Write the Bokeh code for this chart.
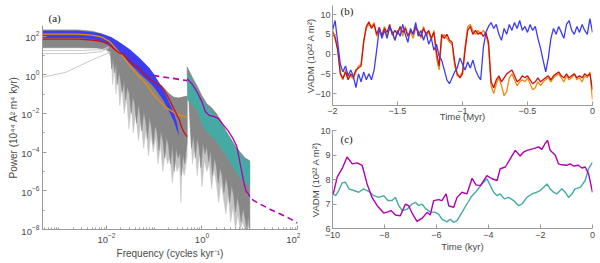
import numpy as np
from bokeh.plotting import figure
from bokeh.layouts import row, column
from bokeh.models import FixedTicker, Label, Range1d
from bokeh.embed import file_html
from bokeh.resources import INLINE

# ---------------- Panel (a): spectra, stored as log10(frequency), log10(power)
gray_lo_top_lf = [-3.34, -2.6, -2.3, -2.1, -1.95, -1.8, -1.6, -1.4, -1.2, -1.0, -0.85, -0.7, -0.6, -0.5, -0.4, -0.31]
gray_lo_top_lp = [2.32, 2.32, 2.25, 2.12, 1.95, 1.68, 1.3, 0.85, 0.35, -0.15, -0.55, -0.95, -1.15, -1.2, -1.15, -1.1]
gray_lo_bot_lf = [-3.34, -2.6, -2.2, -2.0, -1.92, -1.89, -1.86, -1.83, -1.8, -1.77, -1.74, -1.71, -1.67, -1.63,
                  -1.6, -1.56, -1.52, -1.48, -1.45, -1.41, -1.37, -1.33, -1.3, -1.26, -1.22, -1.18, -1.14, -1.1,
                  -1.06, -1.02, -0.98, -0.94, -0.9, -0.86, -0.82, -0.78, -0.74, -0.7, -0.66, -0.62, -0.58,
                  -0.54, -0.5, -0.46, -0.43, -0.4, -0.36, -0.33, -0.31]
gray_lo_bot_lp = [1.4, 1.4, 1.38, 1.3, 1.2, 0.3, 0.9, 0.1, 0.6, -0.5, 0.2, -0.2, -0.9, -0.3,
                  -1.3, -0.6, -1.0, -2.0, -1.1, -1.5, -2.5, -1.5, -2.0, -2.9, -1.9, -2.4, -3.3, -2.2,
                  -2.7, -3.6, -2.6, -3.0, -3.9, -2.9, -3.4, -4.3, -3.2, -3.7, -4.6, -3.6, -5.0,
                  -3.8, -4.3, -4.0, -5.2, -4.1, -4.6, -3.9, -3.5]
light_lo_bot_lf = [-2.0, -1.9, -1.87, -1.84, -1.8, -1.77, -1.72, -1.68, -1.63, -1.58, -1.53, -1.48, -1.44, -1.39,
                   -1.33, -1.28, -1.22, -1.17, -1.12, -1.07, -1.02, -0.97, -0.92, -0.87, -0.82, -0.77, -0.72,
                   -0.67, -0.62, -0.57, -0.52, -0.47, -0.44, -0.42, -0.37, -0.31]
light_lo_bot_lp = [1.3, 0.9, -0.5, 0.5, -1.0, 0.0, -1.6, -0.6, -2.0, -1.2, -2.8, -1.6, -3.0, -2.0,
                   -3.4, -2.4, -3.8, -2.8, -4.2, -3.0, -4.0, -3.2, -4.6, -3.6, -5.0, -4.0, -4.6,
                   -4.2, -5.6, -4.4, -5.0, -4.6, -6.6, -4.8, -5.2, -4.2]

faint1_lf = [-3.34, -2.5, -2.1, -1.95]
faint1_lp = [1.26, 1.26, 1.3, 1.45]
faint2_lf = [-3.34, -2.5, -2.1, -1.95]
faint2_lp = [1.09, 1.1, 1.2, 1.4]
faint3_lf = [-3.34, -2.85, -2.33, -1.92]
faint3_lp = [-0.13, 0.13, 0.74, 1.17]

gray_hi_top_lf = [-0.31, -0.2, -0.1, 0.0, 0.1, 0.2, 0.3, 0.4, 0.5, 0.6, 0.7, 0.8, 0.9, 1.0]
gray_hi_top_lp = [0.4, -0.15, -0.6, -1.1, -1.5, -1.7, -2.0, -2.4, -2.9, -3.3, -3.7, -4.0, -4.3, -4.45]
gray_hi_bot_lf = [-0.31, -0.28, -0.25, -0.22, -0.18, -0.14, -0.1, -0.06, -0.02, 0.02, 0.06, 0.1, 0.14, 0.18,
                  0.22, 0.26, 0.3, 0.34, 0.38, 0.42, 0.46, 0.5, 0.54, 0.58, 0.62, 0.66, 0.7, 0.74, 0.78,
                  0.82, 0.86, 0.9, 0.94, 0.97, 1.0]
gray_hi_bot_lp = [0.0, -1.0, -2.5, -3.8, -3.1, -4.3, -3.3, -3.8, -4.8, -3.5, -4.1, -3.7, -4.5, -3.9,
                  -5.2, -4.3, -4.7, -5.6, -4.8, -5.2, -6.1, -5.3, -5.8, -6.6, -5.7, -6.2, -7.1, -6.3, -6.8,
                  -7.6, -6.9, -7.4, -8.0, -7.3, -8.0]
light_hi_bot_lf = [-0.31, -0.28, -0.25, -0.2, -0.15, -0.1, -0.05, 0.0, 0.05, 0.1, 0.15, 0.2, 0.25, 0.3,
                   0.35, 0.4, 0.45, 0.5, 0.55, 0.6, 0.65, 0.7, 0.75, 0.8, 0.85, 0.9, 0.95, 1.0]
light_hi_bot_lp = [0.0, -1.0, -2.5, -4.6, -3.6, -5.2, -4.0, -5.8, -4.4, -5.0, -4.6, -5.9, -4.9, -5.6,
                   -6.6, -5.5, -6.4, -7.2, -6.2, -7.6, -6.8, -8.0, -7.2, -8.0, -7.6, -8.0, -7.8, -8.0]

blue_lf = [-3.34, -2.6, -2.3, -2.1, -1.9, -1.7, -1.5, -1.3, -1.1, -1.0, -0.9, -0.8, -0.7, -0.6, -0.52, -0.48]
blue_top = [2.28, 2.28, 2.22, 2.12, 1.95, 1.65, 1.3, 0.85, 0.35, 0.02, -0.4, -0.85, -1.35, -1.9, -2.5, -3.15]
blue_bot = [1.9, 1.9, 1.85, 1.72, 1.45, 1.05, 0.55, 0.05, -0.4, -0.65, -1.0, -1.35, -1.85, -2.35, -2.9, -3.15]

teal_lf = [-0.31, -0.2, -0.1, 0.0, 0.1, 0.2, 0.3, 0.4, 0.5, 0.6, 0.7, 0.8, 0.9, 1.0]
teal_top = [0.15, -0.3, -0.75, -1.25, -1.6, -1.85, -2.15, -2.5, -2.95, -3.35, -3.75, -4.05, -4.35, -4.55]
teal_bot = [-1.3, -1.55, -1.9, -2.6, -2.95, -3.2, -3.45, -3.8, -4.2, -4.6, -5.0, -5.35, -5.6, -5.8]

orange_lf = [-3.34, -2.6, -2.3, -2.1, -1.95, -1.85, -1.75, -1.65, -1.55, -1.45, -1.35, -1.25, -1.15, -1.05,
             -0.95, -0.85, -0.75, -0.65, -0.55, -0.45, -0.38, -0.31]
orange_lp = [2.1, 2.1, 2.05, 1.95, 1.75, 1.5, 1.2, 0.95, 0.6, 0.3, 0.0, -0.25, -0.55, -0.9,
             -1.2, -1.45, -1.7, -1.85, -2.0, -2.1, -2.15, -2.2]

red_lf = [-3.34, -2.6, -2.3, -2.1, -1.95, -1.85, -1.75, -1.65, -1.55, -1.45, -1.35, -1.25, -1.15, -1.05,
          -0.95, -0.85, -0.78, -0.7, -0.62, -0.55, -0.48, -0.42, -0.37, -0.31]
red_lp = [1.85, 1.85, 1.8, 1.72, 1.6, 1.35, 1.15, 1.05, 0.8, 0.55, 0.4, 0.15, -0.1, -0.3,
          -0.45, -0.6, -0.85, -1.2, -1.6, -1.95, -2.3, -2.75, -3.0, -3.2]

mag_lf = [-0.31, -0.2, -0.1, 0.0, 0.07, 0.15, 0.24, 0.34, 0.45, 0.55, 0.65, 0.73, 0.8, 0.87, 0.92, 0.97, 1.0]
mag_lp = [-0.2, -0.5, -0.9, -1.4, -1.9, -2.1, -2.15, -2.25, -2.6, -2.9, -3.3, -3.7, -4.6, -5.5, -6.0, -6.15, -6.3]

model_lf = [-1.02, -0.7, -0.31, 0.0, 0.5, 1.0, 1.15, 1.42, 1.64, 1.85, 2.0]
model_lp = [-0.04, -0.15, -0.3, -1.5, -4.0, -6.37, -6.6, -6.95, -7.2, -7.45, -7.67]

# ---------------- Panel (b): VADM over 2 Myr
t_b = np.linspace(-2.0, 0.0, 101)
orange_b = [6.0, 4.5, 1.5, -4.5, -6.5, -4.0, -6.0, -5.5, -6.3, -4.5, -3.0, -2.5, 3.5, 6.5, 7.5, 7.0, 8.0, 4.5,
            6.0, 5.0, 7.0, 4.5, 6.5, 5.5, 3.5, 5.5, 6.5, 4.5, 7.0, 5.0, 5.5, 4.0, 6.5, 6.0, 4.0, 7.0, 4.5,
            5.5, 3.5, 6.0, -1.0, -4.0, 4.0, 5.0, 4.0, 3.0, 2.5, -3.0, -5.5, -5.5, -4.5, 2.0, 7.0, 7.5, 6.0,
            5.0, 6.0, 5.0, 6.0, 5.0, 2.0, -8.0, -10.0, -7.5, -6.0, -8.0, -10.5, -9.5, -6.0, -5.0, -6.5, -8.0,
            -7.0, -6.5, -7.0, -6.0, -7.5, -9.0, -8.5, -7.0, -8.0, -7.0, -6.5, -6.0, -7.0, -6.0, -5.5, -5.0,
            -6.0, -7.0, -5.5, -6.5, -6.0, -5.0, -6.5, -6.0, -7.0, -5.5, -6.0, -4.5, -11.5]
red_b = [5.5, 4.0, 1.0, -5.0, -6.2, -4.5, -6.5, -5.0, -5.8, -4.0, -3.5, -3.0, 3.0, 7.0, 8.2, 6.5, 7.5, 5.0,
         6.8, 4.5, 6.5, 5.5, 7.5, 4.8, 6.0, 5.0, 7.0, 5.5, 6.5, 4.5, 6.0, 5.0, 7.0, 5.5, 4.5, 6.5, 5.0,
         6.0, 4.0, 5.5, 0.5, -3.0, 5.0, 4.0, 5.0, 3.5, 3.0, -2.0, -5.0, -6.0, -5.0, 1.0, 6.0, 7.0, 5.0,
         6.0, 5.0, 5.5, 4.5, 5.5, 3.0, -7.0, -8.5, -6.5, -5.5, -7.0, -6.0, -5.0, -4.5, -4.0, -5.5, -7.0,
         -6.5, -5.5, -6.0, -5.5, -6.5, -7.5, -7.0, -6.0, -7.0, -6.5, -6.0, -5.5, -6.5, -5.5, -5.0, -4.5,
         -5.5, -6.0, -5.0, -6.0, -5.5, -5.0, -6.0, -5.5, -6.0, -5.0, -5.5, -5.0, -9.0]
blue_b = [6.0, 8.5, 3.0, -2.5, -4.5, -3.0, -5.5, -4.0, -5.5, -8.5, -5.0, -7.0, -4.5, -6.5, -5.0, -6.5, -4.0, 1.0,
          6.5, 4.0, 6.0, 4.0, 7.0, 5.5, 3.5, 6.0, 4.5, 7.5, 5.0, 3.0, 6.5, 5.0, 8.0, 4.5, 6.0, 3.5, 5.5,
          2.5, 4.0, 1.0, 2.5, -0.5, -1.5, -4.0, -6.5, -7.5, -6.0, -4.5, -3.5, -1.0, -2.5, -4.0, -2.0, -3.5, -1.5,
          -4.0, -5.5, -6.5, 1.5, 5.5, 7.0, 8.0, 6.5, 7.5, 5.0, 3.5, 6.5, 5.0, 7.5, 6.0, 8.0, 6.5, 8.5, 6.0,
          7.0, 5.5, 7.5, 6.0, 7.0, 4.0, 1.5, -1.5, -4.5, -1.0, 4.0, 6.5, 5.0, 7.0, 5.5, 4.0, 7.5, 8.5, 6.0,
          5.0, 7.0, 5.5, 7.5, 6.0, 5.0, 9.0, 5.5]

# ---------------- Panel (c): VADM over 10 kyr
t_mag = [-9.97, -9.82, -9.63, -9.44, -9.24, -9.05, -8.86, -8.67, -8.48, -8.28, -8.03, -7.87, -7.75, -7.58, -7.39,
         -7.2, -7.07, -6.94, -6.75, -6.56, -6.36, -6.24, -6.11, -5.92, -5.79, -5.63, -5.53, -5.34, -5.21, -5.02,
         -4.83, -4.63, -4.48, -4.31, -4.06, -3.87, -3.67, -3.55, -3.35, -3.16, -2.97, -2.78, -2.65, -2.52, -2.27,
         -2.07, -1.95, -1.82, -1.73, -1.63, -1.43, -1.31, -1.18, -0.99, -0.86, -0.73, -0.54, -0.41, -0.28, -0.15, 0.0]
v_mag = [7.41, 8.1, 8.44, 8.92, 8.64, 8.68, 8.58, 7.82, 7.27, 6.93, 6.63, 6.68, 6.73, 6.55, 6.52,
         6.99, 6.93, 6.63, 6.29, 6.41, 6.66, 6.55, 7.14, 7.18, 7.14, 7.41, 6.93, 6.86, 7.27, 7.48,
         7.41, 8.05, 7.78, 7.75, 8.16, 8.03, 7.96, 8.44, 8.51, 8.85, 9.19, 8.96, 9.12, 9.19, 9.26,
         9.33, 9.23, 9.47, 9.6, 9.19, 8.99, 8.64, 8.6, 8.58, 8.64, 8.55, 8.58, 8.47, 8.51, 8.23, 7.48]
t_teal = [-9.97, -9.88, -9.76, -9.63, -9.5, -9.37, -9.18, -8.99, -8.8, -8.6, -8.41, -8.22, -8.03, -7.87, -7.71,
          -7.58, -7.45, -7.32, -7.13, -6.94, -6.81, -6.68, -6.56, -6.43, -6.24, -6.04, -5.92, -5.79, -5.6, -5.47,
          -5.34, -5.21, -5.02, -4.83, -4.63, -4.44, -4.25, -4.06, -3.93, -3.8, -3.67, -3.55, -3.39, -3.23, -3.03,
          -2.84, -2.71, -2.52, -2.33, -2.14, -2.01, -1.88, -1.75, -1.63, -1.5, -1.37, -1.18, -1.05, -0.92, -0.79,
          -0.67, -0.47, -0.28, -0.15, 0.0]
v_teal = [7.41, 7.34, 7.55, 7.86, 7.89, 7.62, 7.55, 7.48, 7.62, 7.51, 7.34, 7.27, 7.34, 7.14, 7.14,
          7.27, 6.93, 6.73, 6.79, 7.0, 7.07, 6.93, 7.0, 6.82, 6.68, 6.66, 6.59, 6.38, 6.27, 6.38,
          6.25, 6.32, 6.66, 7.0, 7.34, 7.55, 7.82, 8.03, 7.75, 7.48, 7.34, 7.41, 7.21, 7.27, 7.14,
          6.93, 7.0, 7.27, 7.41, 7.48, 7.55, 7.68, 7.82, 7.62, 7.48, 7.41, 7.62, 7.48, 7.27, 7.41,
          7.62, 7.68, 7.96, 8.44, 8.7]

# tick positions and texts
a_xticks = [1e-2, 1e0, 1e2]
a_yticks = [1e-8, 1e-6, 1e-4, 1e-2, 1e0, 1e2]
b_xticks = [-2, -1.5, -1, -0.5, 0]
b_yticks = [-10, -5, 0, 5, 10]
c_xticks = [-10, -8, -6, -4, -2, 0]
c_yticks = [6, 7, 8, 9, 10]
a_xlabel = "Frequency (cycles kyr\u207b\u00b9)"
a_ylabel = "Power (10\u2074\u2074 A\u00b2 m\u2074 kyr)"
b_xlabel = "Time (Myr)"
c_xlabel = "Time (kyr)"
bc_ylabel = "VADM (10\u00b2\u00b2 A m\u00b2)"

C_GRAY = "#878787"
C_LIGHT = "#c4c4c4"
C_FAINT = "#c9c9c9"
C_BLUE = "#3c3cf0"
C_TEAL = "#45aaa4"
C_ORANGE = "#ee8a10"
C_RED = "#d01010"
C_MAG = "#b000b0"
AX = "#9a9a9a"
TXT = "#4a4a4a"
SANS = "Liberation Sans"
SERIF = "Liberation Serif"


def p10(a):
    return [10.0 ** v for v in a]


def style(p, tick_size="9px", label_size="9.5px"):
    p.outline_line_color = None
    p.grid.visible = False
    p.background_fill_color = "white"
    p.border_fill_color = "white"
    for ax in p.axis:
        ax.axis_line_color = AX
        ax.major_tick_line_color = AX
        ax.minor_tick_line_color = AX
        ax.major_tick_in = 4
        ax.major_tick_out = 0
        ax.minor_tick_in = 2
        ax.minor_tick_out = 0
        ax.major_label_text_font = SANS
        ax.major_label_text_font_size = tick_size
        ax.major_label_text_color = TXT
        ax.axis_label_text_font = SANS
        ax.axis_label_text_font_size = label_size
        ax.axis_label_text_font_style = "normal"
        ax.axis_label_text_color = TXT
        ax.major_label_standoff = 3
        ax.axis_label_standoff = 2


def tag(p, x, y, text):
    p.add_layout(Label(x=x, y=y, text=text, text_font=SERIF, text_font_size="11px",
                       text_color="#222222", text_align="left", text_baseline="middle"))


# ---------------- figure (a)
fa = figure(width=300, height=263, x_axis_type="log", y_axis_type="log",
            x_range=Range1d(10 ** -3.34, 100), y_range=Range1d(1e-8, 10 ** 2.55),
            output_backend="svg", toolbar_location=None, title="(a)",
            min_border_left=42, min_border_right=3, min_border_top=25, min_border_bottom=34)
style(fa, "9.5px", "10px")
fa.title.text_font = SERIF
fa.title.text_font_size = "11px"
fa.title.text_font_style = "normal"
fa.title.text_color = "#222222"
fa.title.align = "left"
fa.title.offset = 6
fa.title.standoff = 4
fa.yaxis.axis_label_standoff = -1

xminor = [m * 10.0 ** e for e in range(-4, 2) for m in range(1, 10) if 10 ** -3.34 <= m * 10.0 ** e <= 100]
yminor = [10.0 ** e for e in range(-8, 3)]
fa.xaxis.ticker = FixedTicker(ticks=a_xticks, minor_ticks=xminor)
fa.yaxis.ticker = FixedTicker(ticks=a_yticks, minor_ticks=yminor)
fa.xaxis.axis_label = a_xlabel
fa.yaxis.axis_label = a_ylabel

llo_x = p10(gray_lo_top_lf) + p10(light_lo_bot_lf[::-1])
llo_y = p10(gray_lo_top_lp) + p10(light_lo_bot_lp[::-1])
fa.patch(llo_x, llo_y, fill_color=C_LIGHT, line_color=C_LIGHT, line_width=0.5)
lhi_x = p10(gray_hi_top_lf) + p10(light_hi_bot_lf[::-1])
lhi_y = p10(gray_hi_top_lp) + p10(light_hi_bot_lp[::-1])
fa.patch(lhi_x, lhi_y, fill_color=C_LIGHT, line_color=C_LIGHT, line_width=0.5)
lo_x = p10(gray_lo_top_lf) + p10(gray_lo_bot_lf[::-1])
lo_y = p10(gray_lo_top_lp) + p10(gray_lo_bot_lp[::-1])
fa.patch(lo_x, lo_y, fill_color=C_GRAY, line_color=C_GRAY, line_width=0.5)
for lf_, lp_ in ((faint1_lf, faint1_lp), (faint2_lf, faint2_lp), (faint3_lf, faint3_lp)):
    fa.line(p10(lf_), p10(lp_), line_color=C_FAINT, line_width=1)
fa.varea(x=p10(blue_lf), y1=p10(blue_bot), y2=p10(blue_top), fill_color=C_BLUE)
fa.line(p10(model_lf), p10(model_lp), line_color=C_MAG, line_width=1.6, line_dash="6 4")
hi_x = p10(gray_hi_top_lf) + p10(gray_hi_bot_lf[::-1])
hi_y = p10(gray_hi_top_lp) + p10(gray_hi_bot_lp[::-1])
fa.patch(hi_x, hi_y, fill_color=C_GRAY, line_color=C_GRAY, line_width=0.5)
fa.varea(x=p10(teal_lf), y1=p10(teal_bot), y2=p10(teal_top), fill_color=C_TEAL)
fa.line(p10(orange_lf), p10(orange_lp), line_color=C_ORANGE, line_width=1.3)
fa.line(p10(red_lf), p10(red_lp), line_color=C_RED, line_width=1.3)
fa.line(p10(mag_lf), p10(mag_lp), line_color=C_MAG, line_width=1.3)

# ---------------- figure (b)
fb = figure(width=300, height=125, x_range=Range1d(-2, 0), y_range=Range1d(-13, 12.3),
            output_backend="svg", toolbar_location=None,
            min_border_left=32, min_border_right=8, min_border_top=5, min_border_bottom=20)
style(fb, "9px", "9.5px")
fb.xaxis.ticker = FixedTicker(ticks=b_xticks)
fb.yaxis.ticker = FixedTicker(ticks=b_yticks)
fb.xaxis.axis_label = b_xlabel
fb.yaxis.axis_label = bc_ylabel
fb.xaxis.major_label_standoff = 2
fb.xaxis.axis_label_standoff = -6
fb.yaxis.major_label_standoff = 2
fb.yaxis.axis_label_standoff = -4
fb.line(t_b, orange_b, line_color=C_ORANGE, line_width=1.3)
fb.line(t_b, red_b, line_color=C_RED, line_width=1.3)
fb.line(t_b, blue_b, line_color=C_BLUE, line_width=1.3)
tag(fb, -1.938, 11.0, "(b)")

# ---------------- figure (c)
fc = figure(width=300, height=138, x_range=Range1d(-10, 0), y_range=Range1d(6, 10),
            output_backend="svg", toolbar_location=None,
            min_border_left=32, min_border_right=8, min_border_top=5, min_border_bottom=35)
style(fc, "9px", "9.5px")
fc.xaxis.ticker = FixedTicker(ticks=c_xticks)
fc.yaxis.ticker = FixedTicker(ticks=c_yticks)
fc.xaxis.axis_label = c_xlabel
fc.yaxis.axis_label = bc_ylabel
fc.xaxis.axis_label_standoff = 0
fc.yaxis.major_label_standoff = 2
fc.yaxis.axis_label_standoff = -4
fc.line(t_teal, v_teal, line_color=C_TEAL, line_width=1.4)
fc.line(t_mag, v_mag, line_color=C_MAG, line_width=1.4)
tag(fc, -9.69, 9.67, "(c)")

layout = row(fa, column(fb, fc, spacing=0), spacing=0)
open("out.html", "w").write(file_html(layout, INLINE))
